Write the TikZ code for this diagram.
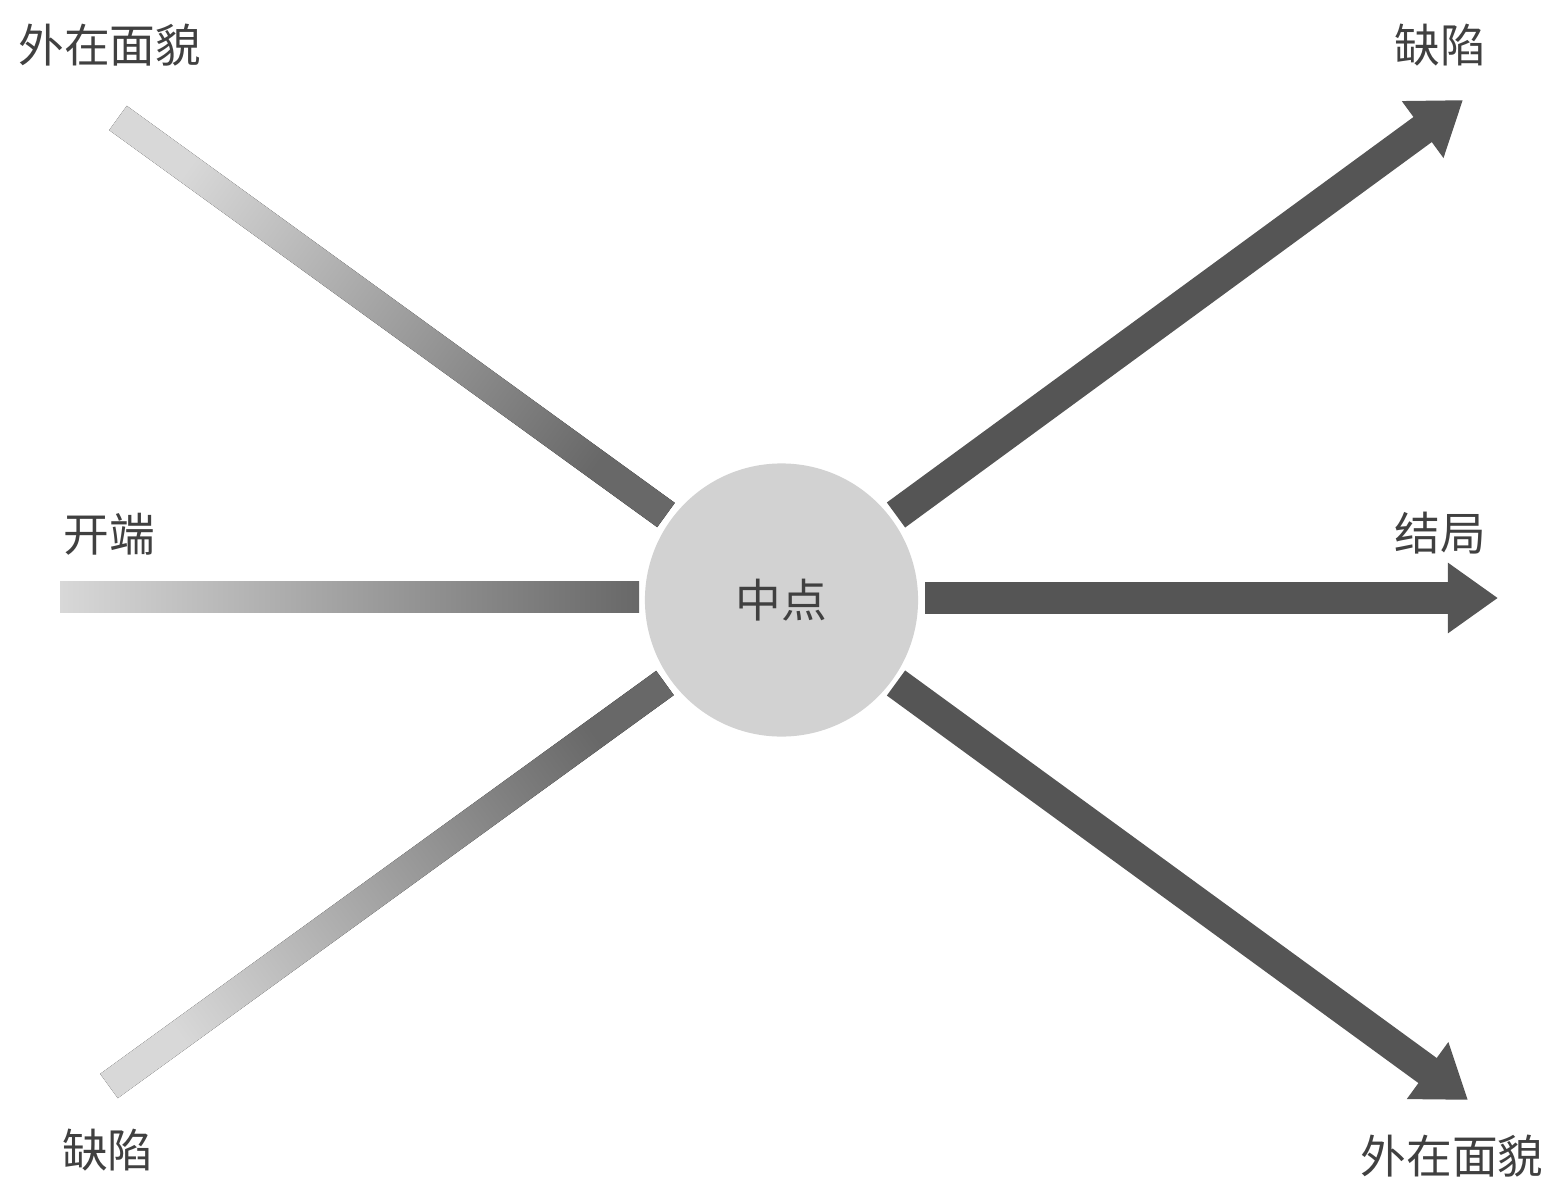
\documentclass[tikz,border=0pt]{standalone}
\usepackage{fontspec}
\newfontfamily\cjk{Noto Sans CJK SC}
\usetikzlibrary{arrows.meta,calc}
\definecolor{txtgray}{HTML}{404040}
\definecolor{lightend}{HTML}{D8D8D8}
\definecolor{darkend}{HTML}{686868}
\definecolor{arrowgray}{HTML}{555555}
\definecolor{circlegray}{HTML}{D2D2D2}
\tikzset{
  lbl/.style={font=\cjk\fontsize{13pt}{15pt}\selectfont, text=txtgray, inner sep=0pt},
  outarrow/.style={draw=arrowgray, line width=0.31cm, -{Triangle[length=0.5cm,width=0.67cm]}},
  hub/.style={circle, fill=circlegray, minimum size=2.73cm, inner sep=0pt,
    font=\cjk\fontsize{13pt}{15pt}\selectfont, text=txtgray}
}
\begin{document}
\begin{tikzpicture}[x=0.01cm,y=-0.01cm]
\useasboundingbox (0,0) rectangle (1550,1178);
% hub
\node[hub] (mid) at (781.5,600) {中点};
% coordinates of bar ends
\coordinate (ulA) at (118,118);
\coordinate (ulB) at (666,515);
\coordinate (llA) at (109,1086);
\coordinate (llB) at (665,683);
\coordinate (lA) at (60,597);
\coordinate (lB) at (639,597);
\coordinate (rS) at (925,598);
\coordinate (rT) at (1498,598);
\coordinate (urS) at (896,515);
\coordinate (urT) at (1463,100);
\coordinate (lrS) at (896,683);
\coordinate (lrT) at (1468,1100);
% incoming gradient bars
\fill[left color=lightend, right color=darkend]
  ($(lA)!0.155cm!90:(lB)$) -- ($(lB)!0.155cm!-90:(lA)$) -- ($(lB)!0.155cm!90:(lA)$) -- ($(lA)!0.155cm!-90:(lB)$) -- cycle;
\fill[shading=axis, top color=lightend, bottom color=darkend, shading angle=54]
  ($(ulA)!0.15cm!90:(ulB)$) -- ($(ulB)!0.15cm!-90:(ulA)$) -- ($(ulB)!0.15cm!90:(ulA)$) -- ($(ulA)!0.15cm!-90:(ulB)$) -- cycle;
\fill[shading=axis, top color=lightend, bottom color=darkend, shading angle=126]
  ($(llA)!0.15cm!90:(llB)$) -- ($(llB)!0.15cm!-90:(llA)$) -- ($(llB)!0.15cm!90:(llA)$) -- ($(llA)!0.15cm!-90:(llB)$) -- cycle;
% outgoing arrows
\draw[outarrow] (rS) -- (rT);
\draw[outarrow] (urS) -- (urT);
\draw[outarrow] (lrS) -- (lrT);
% labels
\node[lbl] (t1) at (110,45) {外在面貌};
\node[lbl] (t2) at (1440,45) {缺陷};
\node[lbl] (t3) at (109,534) {开端};
\node[lbl] (t4) at (1440,533) {结局};
\node[lbl] (t5) at (108,1150) {缺陷};
\node[lbl] (t6) at (1452,1156) {外在面貌};
\end{tikzpicture}
\end{document}
